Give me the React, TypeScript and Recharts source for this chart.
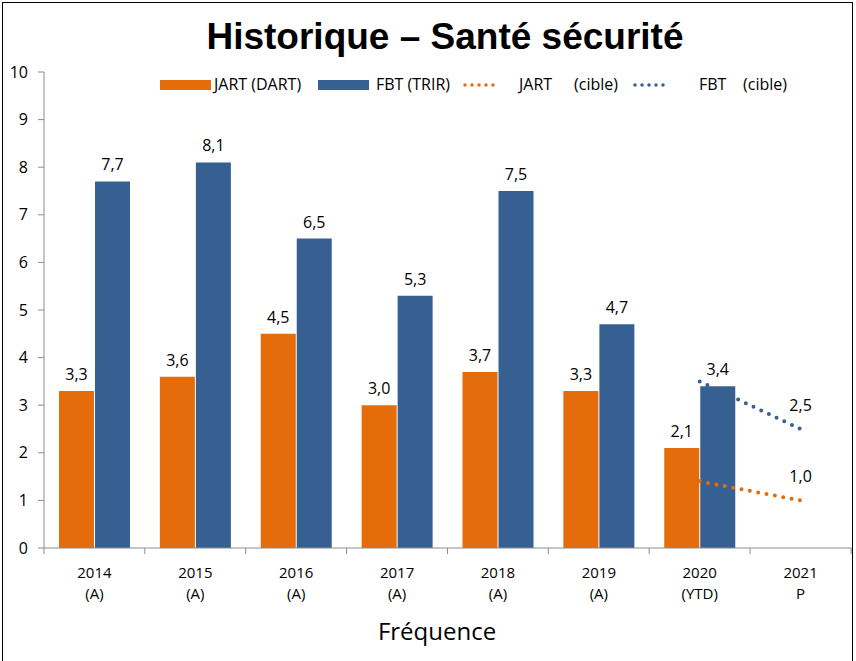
import { ComposedChart, Bar, Line, XAxis, YAxis, LabelList } from "recharts";

const years = ["2014", "2015", "2016", "2017", "2018", "2019", "2020", "2021"];
const periods = ["(A)", "(A)", "(A)", "(A)", "(A)", "(A)", "(YTD)", "P"];
const jartDart = [3.3, 3.6, 4.5, 3.0, 3.7, 3.3, 2.1, null];
const fbtTrir = [7.7, 8.1, 6.5, 5.3, 7.5, 4.7, 3.4, null];
const jartTarget = [null, null, null, null, null, null, 1.4, 1.0];
const fbtTarget = [null, null, null, null, null, null, 3.5, 2.5];
const yTicks = [0, 1, 2, 3, 4, 5, 6, 7, 8, 9, 10];

const data = years.map((y, i) => ({
  year: y,
  period: periods[i],
  jart: jartDart[i],
  fbt: fbtTrir[i],
  jartCible: jartTarget[i],
  fbtCible: fbtTarget[i],
}));

const ORANGE = "#e46c0a";
const BLUE = "#376092";
const AXIS = "#8c8c8c";
const FONT = "'Open Sans', 'Noto Sans', sans-serif";

const fmt = (v: any) => (v == null ? "" : Number(v).toFixed(1).replace(".", ","));

// category ticks: label at center, tick marks at band boundaries
function YearTick({ x, y, payload, index, visibleTicksCount }: any) {
  const half = 101 / 2;
  const last = index === (visibleTicksCount ?? years.length) - 1;
  return (
    <g>
      <line x1={x - half} y1={y - 8} x2={x - half} y2={y - 2} stroke={AXIS} />
      {last && <line x1={x + half} y1={y - 8} x2={x + half} y2={y - 2} stroke={AXIS} />}
      <text x={x} y={y} textAnchor="middle" fontFamily={FONT} fontSize={15} fill="#000">
        <tspan x={x} dy={22}>{payload.value}</tspan>
        <tspan x={x} dy={21}>{periods[index]}</tspan>
      </text>
    </g>
  );
}

function EndLabel({ x, y, index, value }: any) {
  if (index !== years.length - 1 || value == null) return null;
  return (
    <text x={x} y={y - 18} textAnchor="middle" fontFamily={FONT} fontSize={16} fill="#000">
      {fmt(value)}
    </text>
  );
}

function LegendRow() {
  const rect = (left: number, c: string) => (
    <div style={{ position: "absolute", left, top: 80, width: 51, height: 10, background: c }} />
  );
  const dots = (left: number, c: string) => (
    <svg style={{ position: "absolute", left, top: 81 }} width={40} height={8}>
      <line x1={3} y1={4} x2={38} y2={4} stroke={c} strokeWidth={3.5} strokeLinecap="round" strokeDasharray="0 7" />
    </svg>
  );
  const label = (left: number, t: string) => (
    <span style={{ position: "absolute", left, top: 73, whiteSpace: "pre" }}>{t}</span>
  );
  return (
    <div style={{ position: "absolute", left: 0, top: 0, fontFamily: FONT, fontSize: 16, color: "#000" }}>
      {rect(160, ORANGE)}
      {label(214, "JART (DART)")}
      {rect(318, BLUE)}
      {label(376, "FBT (TRIR)")}
      {dots(462, ORANGE)}
      {label(519, "JART")}
      {label(574, "(cible)")}
      {dots(632, BLUE)}
      {label(699, "FBT")}
      {label(743, "(cible)")}
    </div>
  );
}

export default function App() {
  return (
    <div style={{ position: "absolute", left: 0, top: 0, width: 856, height: 661, overflow: "hidden", background: "#fff" }}>
      <div
        style={{
          position: "absolute",
          left: 2,
          top: 2,
          width: 849,
          height: 700,
          border: "1.5px solid #000",
        }}
      />
      <div
        style={{
          position: "absolute",
          left: 0,
          top: 16,
          width: 890,
          textAlign: "center",
          fontFamily: "'Liberation Sans', Arial, sans-serif",
          fontWeight: "bold",
          fontSize: 37,
          color: "#000",
        }}
      >
        Historique – Santé sécurité
      </div>
      <LegendRow />
      <ComposedChart
        width={856}
        height={661}
        data={data}
        margin={{ top: 72, right: 5, bottom: 53, left: 0 }}
        barGap={1}
        barCategoryGap={15}
      >
        <YAxis
          domain={[0, 10]}
          ticks={yTicks}
          interval={0}
          width={44}
          stroke={AXIS}
          tickSize={6}
          tickMargin={10}
          tick={{ fill: "#000", fontSize: 16, fontFamily: FONT }}
        />
        <XAxis
          dataKey="year"
          height={60}
          stroke={AXIS}
          tickLine={false}
          interval={0}
          tick={<YearTick />}
        />
        <Bar dataKey="jart" fill={ORANGE} isAnimationActive={false}>
          <LabelList dataKey="jart" position="top" offset={11} formatter={fmt} fill="#000" fontSize={16} fontFamily={FONT} />
        </Bar>
        <Bar dataKey="fbt" fill={BLUE} isAnimationActive={false}>
          <LabelList dataKey="fbt" position="top" offset={11} formatter={fmt} fill="#000" fontSize={16} fontFamily={FONT} />
        </Bar>
        <Line
          dataKey="jartCible"
          stroke={ORANGE}
          strokeWidth={4}
          strokeLinecap="round"
          strokeDasharray="0 8.5"
          dot={false}
          activeDot={false}
          isAnimationActive={false}
          label={<EndLabel />}
        />
        <Line
          dataKey="fbtCible"
          stroke={BLUE}
          strokeWidth={4}
          strokeLinecap="round"
          strokeDasharray="0 8.5"
          dot={false}
          activeDot={false}
          isAnimationActive={false}
          label={<EndLabel />}
        />
      </ComposedChart>
      <div
        style={{
          position: "absolute",
          left: 33,
          width: 808,
          top: 614,
          textAlign: "center",
          fontFamily: FONT,
          fontSize: 24,
          color: "#000",
        }}
      >
        Fréquence
      </div>
    </div>
  );
}
